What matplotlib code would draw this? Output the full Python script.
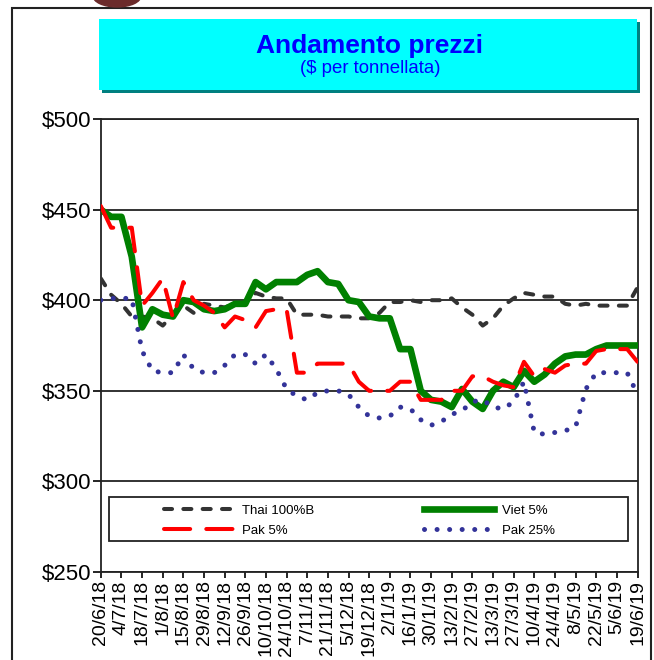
import matplotlib.pyplot as plt
from matplotlib.patches import Rectangle, Ellipse

plt.rcParams['font.family'] = ['Liberation Sans', 'DejaVu Sans']

# etichette asse x (ogni due settimane)
date_labels = ['20/6/18', '4/7/18', '18/7/18', '1/8/18', '15/8/18', '29/8/18',
               '12/9/18', '26/9/18', '10/10/18', '24/10/18', '7/11/18',
               '21/11/18', '5/12/18', '19/12/18', '2/1/19', '16/1/19',
               '30/1/19', '13/2/19', '27/2/19', '13/3/19', '27/3/19',
               '10/4/19', '24/4/19', '8/5/19', '22/5/19', '5/6/19', '19/6/19']

weeks = list(range(53))

thai_100b = [412, 403, 398, 391, 391, 390, 386, 392, 397, 393, 398, 397, 396,
             398, 399, 404, 402, 401, 401, 392, 392, 392, 391, 391, 391, 390,
             390, 393, 399, 399, 400, 399, 400, 400, 401, 396, 392, 386, 390,
             397, 401, 404, 403, 402, 402, 398, 397, 398, 397, 397, 397, 397,
             407]
viet_5 = [450, 446, 446, 424, 385, 395, 392, 391, 400, 399, 395, 394, 395,
          398, 398, 410, 406, 410, 410, 410, 414, 416, 410, 409, 400, 399,
          391, 390, 390, 373, 373, 350, 345, 344, 341, 351, 344, 340, 350,
          355, 352, 361, 355, 359, 365, 369, 370, 370, 373, 375, 375, 375,
          375]
pak_5 = [452, 440, 440, 440, 397, 404, 412, 390, 410, 400, 397, 393, 385,
         391, 389, 385, 394, 395, 395, 360, 360, 365, 365, 365, 365, 355,
         350, 350, 350, 355, 355, 345, 345, 345, 350, 350, 358, 358, 355,
         353, 352, 366, 358, 362, 360, 364, 365, 365, 372, 373, 373, 373,
         366]
pak_25 = [400, 401, 401, 401, 372, 361, 360, 360, 370, 362, 360, 360, 364,
          370, 370, 365, 370, 362, 351, 347, 345, 349, 350, 350, 348, 341,
          336, 335, 336, 341, 340, 334, 331, 333, 337, 339, 344, 345, 341,
          340, 344, 355, 327, 326, 327, 328, 330, 351, 360, 360, 360, 360,
          348]

W, H = 654, 660
fig = plt.figure(figsize=(W / 100, H / 100), dpi=100)

# cornice esterna e logo tagliato
fig.add_artist(Rectangle((12 / W, -0.05), 638.7 / W, 1.05 - 8 / H,
                         transform=fig.transFigure, fill=False,
                         ec='#222222', lw=1.5))
fig.add_artist(Ellipse((117 / W, 1 + 4 / H), 48 / W, 22 / H,
                       transform=fig.transFigure, color='#6b2b2b'))

# riquadro titolo
fig.add_artist(Rectangle((102 / W, 1 - 93 / H), 538 / W, 71 / H,
                         transform=fig.transFigure, color='#008080', lw=0))
fig.add_artist(Rectangle((99 / W, 1 - 90 / H), 538 / W, 71 / H,
                         transform=fig.transFigure, color='#00FFFF', lw=0))
fig.text(370 / W, 1 - 52.5 / H, 'Andamento prezzi', ha='center',
         va='baseline', fontsize=19, fontweight='bold', color='#0000FF')
fig.text(370 / W, 1 - 73 / H, '($ per tonnellata)', ha='center',
         va='baseline', fontsize=13.4, color='#0000FF')

ax = fig.add_axes([100.8 / W, 1 - 572 / H, 536.7 / W, 453 / H])

l_thai, = ax.plot(weeks, thai_100b, color='#333333', lw=2.9,
                  dashes=(2.0, 2.8), dash_capstyle='round', zorder=3)
l_viet, = ax.plot(weeks, viet_5, color='#008000', lw=4.8,
                  solid_joinstyle='round', zorder=4)
l_pak5, = ax.plot(weeks, pak_5, color='#FF0000', lw=2.9,
                  dashes=(6.5, 4.0), dash_capstyle='round', zorder=5)
l_pak25, = ax.plot(weeks, pak_25, color='#333399', lw=3.6,
                   dashes=(0.01, 2.5), dash_capstyle='round', zorder=6)

ax.set_xlim(0, 52)
ax.set_ylim(250, 500)
ax.set_yticks(range(250, 501, 50))
ax.set_yticklabels(['$' + str(v) for v in range(250, 501, 50)], fontsize=16)
ax.set_xticks(weeks[::2])
ax.set_xticklabels(date_labels, rotation=90, fontsize=14)
ax.tick_params(axis='y', direction='out', length=6, width=1.2, pad=1)
ax.tick_params(axis='x', direction='out', length=4, width=1.2, pad=2)
ax.set_axisbelow(True)
ax.yaxis.grid(True, color='#222222', lw=1.3)
for s in ax.spines.values():
    s.set_color('#222222')
    s.set_linewidth(1.3)

# legenda
fig.add_artist(Rectangle((108.6 / W, 1 - 541 / H), 518.9 / W, 44 / H,
                         transform=fig.transFigure, fill=False,
                         ec='#222222', lw=1.3))
fig.legend([l_thai, l_pak5, l_viet, l_pak25],
           ['Thai 100%B', 'Pak 5%', 'Viet 5%', 'Pak 25%'],
           loc='center', bbox_to_anchor=(359.5 / W, 1 - 520.5 / H), ncol=2,
           frameon=False, fontsize=9.5, handlelength=5.3, handletextpad=0.6,
           columnspacing=8.3, labelspacing=0.6, borderpad=0)

fig.savefig('out.png', dpi=100)
